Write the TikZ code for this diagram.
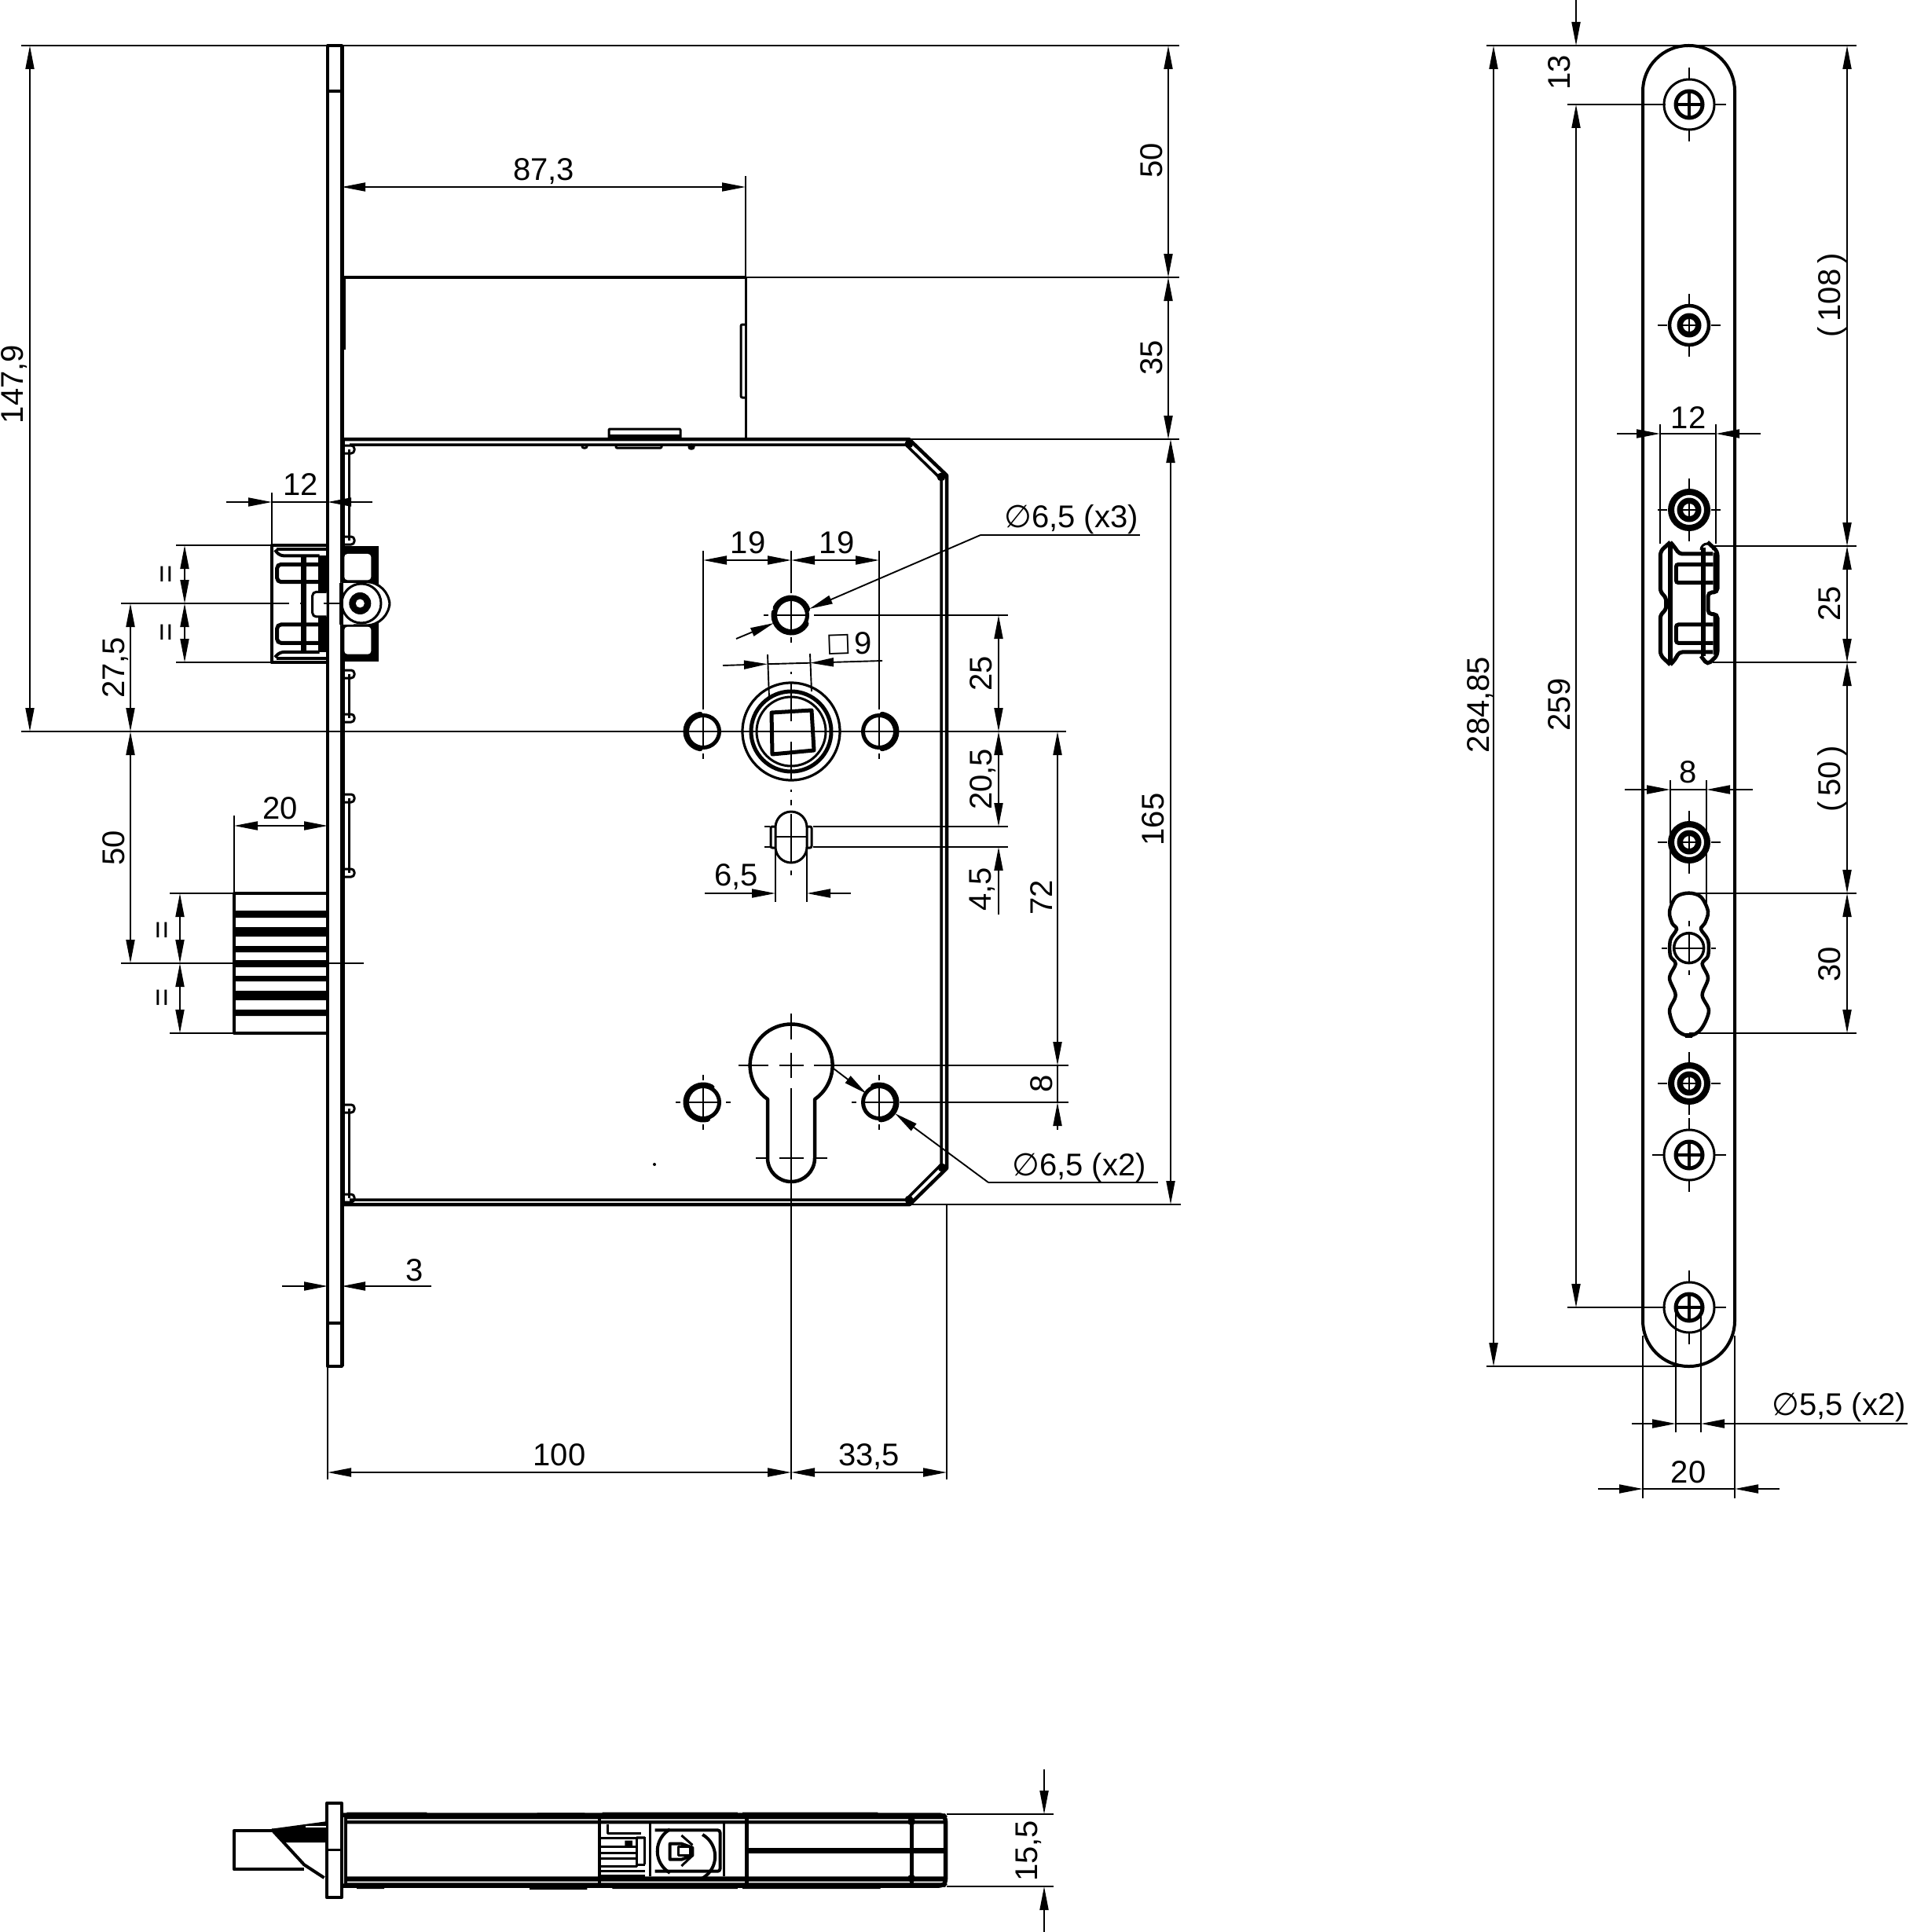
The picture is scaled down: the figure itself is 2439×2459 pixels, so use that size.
\documentclass[tikz,border=0pt]{standalone}
\usepackage{fontspec}
\setmainfont{Liberation Sans}
\newfontfamily\djv{DejaVu Sans}
\usetikzlibrary{arrows.meta}
\tikzset{
  dimln/.style={line width=1.9pt,line cap=butt},
  extln/.style={line width=1.9pt,line cap=butt},
  ctr/.style={line width=1.9pt},
  heavy/.style={line width=4pt,line join=round},
  mid/.style={line width=3pt,line join=round},
  lbl/.style={font=\fontsize{40}{42}\selectfont,inner sep=0pt,text height=28.6pt,text depth=0pt},
  rlbl/.style={lbl,rotate=90},
  tip/.tip={Triangle[length=30pt,width=11pt]},
  both/.style={dimln,{tip}-{tip}},
  tipend/.style={dimln,-{tip}}
}
\newcommand{\dV}[3]{\draw[both] (#1,#2)--(#1,#3);}
\newcommand{\dH}[3]{\draw[both] (#2,#1)--(#3,#1);}
\newcommand{\eH}[3]{\draw[extln] (#2,#1)--(#3,#1);}
\newcommand{\eV}[3]{\draw[extln] (#1,#2)--(#1,#3);}
\newcommand{\phisym}{\makebox[35pt][l]{\djv ∅}}
% hole with thick arc
\newcommand{\hole}[4]{%
  \draw[line width=5pt] (#1,#2) circle (20.5pt);
  \draw[line width=7pt,line cap=round] ([shift={(#3:22pt)}]#1,#2) arc[start angle=#3,end angle=#4,radius=22pt];
  \draw[ctr] (#1-19,#2)--(#1+19,#2) (#1,#2-19)--(#1,#2+19);
  \draw[ctr] (#1-35,#2)--(#1-29,#2) (#1+29,#2)--(#1+35,#2) (#1,#2-35)--(#1,#2-28) (#1,#2+28)--(#1,#2+35);
}
\newcommand{\guide}[2]{%
  \draw[mid] (444,#1)--(444,#2);
  \draw[mid,rounded corners=4pt] (438,#1-5)--(451,#1-5)--(451,#1+5)--(438,#1+5);
  \draw[mid,rounded corners=4pt] (438,#2-5)--(451,#2-5)--(451,#2+5)--(438,#2+5);
}
% #3 ring radius, #4 ring width
\newcommand{\smallscrew}[4]{%
  \draw[line width=#4] (#1,#2) circle (#3);
  \fill (#1,#2) circle (15.5pt);
  \fill[white] (#1,#2) circle (8pt);
  \draw[line width=2.5pt] (#1-15,#2)--(#1+15,#2) (#1,#2-15)--(#1,#2+15);
  \draw[ctr] (#1-40,#2)--(#1-28,#2) (#1+28,#2)--(#1+40,#2) (#1,#2-40)--(#1,#2-27) (#1,#2+27)--(#1,#2+40);
}
\newcommand{\bigscrew}[2]{%
  \draw[mid] (#1,#2) circle (32pt);
  \draw[line width=5pt] (#1,#2) circle (17pt);
  \draw[line width=3.5pt] (#1-17,#2)--(#1+17,#2) (#1,#2-17)--(#1,#2+17);
  \draw[ctr] (#1-47,#2)--(#1-33,#2) (#1+33,#2)--(#1+47,#2) (#1,#2-47)--(#1,#2-33) (#1,#2+33)--(#1,#2+47);
}
\begin{document}
\begin{tikzpicture}[x=1pt,y=-1pt]
\useasboundingbox (0,0) rectangle (2439,2459);
\fill[white] (0,0) rectangle (2439,2459);

% ===== long extension / datum lines =====
\eH{58}{27}{1501}
\eH{931}{27}{1357}
\eH{353}{949}{1501}
\eH{559}{1157}{1501}
\eH{1533}{1158}{1503}

% ===== front view: plate =====
\draw[heavy] (417,58) rectangle (435,1739);
\draw[line width=5pt] (435,58)--(435,1739);
\draw[heavy] (417,116)--(435,116) (417,1684)--(435,1684);

% ===== upper box =====
\draw[heavy] (438,445)--(438,353)--(949,353);
\draw[mid] (949,353)--(949,559);
\draw[mid,rounded corners=2pt] (949,413)--(943,413)--(943,506)--(949,506);
\draw[mid,rounded corners=1pt] (775,559)--(775,546)--(866,546)--(866,559);
\draw[line width=5pt] (775,555)--(866,555);
\draw[mid,rounded corners=1pt] (784,566)--(784,570)--(842,570)--(842,566);
\draw[mid,rounded corners=2pt] (741,566)--(741,570)--(747,570)--(747,566);
\fill (880,568) circle (3.5pt);
\draw[mid,rounded corners=2pt] (877,566)--(877,571)--(883,571)--(883,566);

% ===== lock case =====
\draw[line width=4.5pt,line join=round] (437,559)--(1157,559)--(1205,605)--(1205,1487)--(1158,1533)--(437,1533);
\draw[line width=3.5pt,line join=round] (445,566)--(1153,566)--(1198,610)--(1198,1482)--(1153,1527)--(445,1527);
\draw[line width=4pt] (437,559)--(437,1533);
\fill (1157,565) circle (5.5pt) (1198,607) circle (5.5pt) (1199,1486) circle (5.5pt) (1157,1527) circle (5.5pt);
\guide{572}{688}
\guide{858}{914}
\guide{1016}{1111}
\guide{1411}{1525}

% ===== left latch =====
\begin{scope}[shift={(250,500)},x=.3333pt,y=-.3333pt]
  \draw[heavy] (495,582)--(287,582)--(287,1030)--(495,1030);
  \draw[heavy,rounded corners=3pt] (305,598)--(495,598);
  \draw[heavy,rounded corners=3pt] (305,1014)--(495,1014);
  \draw[heavy,rounded corners=5pt] (300,600)--(318,622)--(470,622);
  \draw[heavy,rounded corners=5pt] (300,1010)--(318,990)--(470,990);
  \fill (465,622) rectangle (497,990);
  \draw[line width=5pt,rounded corners=5pt] (465,655)--(308,655)--(308,722)--(465,722);
  \draw[line width=5pt,rounded corners=5pt] (465,885)--(308,885)--(308,955)--(465,955);
  \draw[line width=7pt] (410,622)--(410,990);
  \draw[mid,fill=white,rounded corners=5pt] (497,760)--(443,760)--(443,855)--(497,855);
  \fill[white] (452,780) rectangle (495,835);
  % right block
  \fill (553,585) rectangle (697,1027);
  \fill[white,rounded corners=4pt] (565,615) rectangle (667,715);
  \fill[white,rounded corners=4pt] (565,893) rectangle (667,998);
  \draw[mid,fill=white,rounded corners=30pt] (553,722)--(738,722)--(738,888)--(553,888);
  \fill[white] (553,725) rectangle (600,885);
  \draw[mid] (630,804) circle (25pt);
  \fill (625,804) circle (14pt);
  \fill[white] (625,804) circle (5.5pt);
  \draw[line width=5pt] (553,725)--(553,885);
  % centre line
  \draw[ctr] (0,804)--(355,804) (395,804)--(420,804) (485,804)--(560,804);
\end{scope}
\eH{694}{224}{346}
\eH{843}{224}{346}
\eH{768}{154}{250}
\eV{346}{627}{694}
\draw[tipend] (288,639)--(346,639);
\draw[tipend] (474,639)--(417,639);
\draw[dimln] (346,639)--(417,639);
\node[lbl] (t12a) at (383,616) {12};
\dV{235}{694}{768}
\dV{235}{768}{843}
\node[rlbl] (teq1) at (210,731) {=};
\node[rlbl] (teq2) at (210,805) {=};
\dV{166}{768}{931}
\dV{166}{931}{1226}
\node[rlbl] (t275) at (144,850) {27,5};
\node[rlbl] (t50a) at (144,1079) {50};

% ===== deadbolt =====
\draw[heavy] (417,1137)--(298,1137)--(298,1315)--(417,1315);
\fill (298,1159) rectangle (417,1168) (298,1180) rectangle (417,1192) (298,1204) rectangle (417,1212) (298,1222) rectangle (417,1231) (298,1242) rectangle (417,1249) (298,1261) rectangle (417,1273) (298,1285) rectangle (417,1293);
\eH{1137}{216}{298}
\eH{1315}{216}{298}
\eH{1226}{154}{298}
\eH{1226}{417}{463}
\eV{298}{1038}{1137}
\dH{1051}{298}{417}
\node[lbl] (t20a) at (357,1028) {20};
\dV{229}{1137}{1226}
\dV{229}{1226}{1315}
\node[rlbl] (teq3) at (205,1184) {=};
\node[rlbl] (teq4) at (205,1270) {=};

% ===== top dims =====
\dV{38}{58}{931}
\node[rlbl] (t1479) at (15.5,489) {147,9};
\dH{238}{435}{949}
\eV{949}{224}{353}
\node[lbl] (t873) at (692,215) {87,3};
\dV{1487}{58}{353}
\dV{1487}{353}{559}
\dV{1490}{559}{1533}
\node[rlbl] (t50b) at (1465,204) {50};
\node[rlbl] (t35) at (1465,455) {35};
\node[rlbl] (t165) at (1467,1043) {165};

% ===== spindle =====
\draw[line width=3.2pt] (1007,931) circle (62pt);
\draw[line width=5pt] (1007,931) circle (51pt);
\draw[line width=3pt] (1007,931) circle (44pt);
\draw[line width=5pt,line join=round] (982,907)--(1033,904)--(1036,955)--(983,960)--cycle;
\draw[ctr] (1007,870)--(1007,918) (1007,944)--(1007,992);
\draw[ctr] (994,931)--(1020,931);

\hole{895}{931}{100}{260}
\hole{1119}{931}{-80}{80}
\hole{1007}{783}{170}{330}
\draw[line width=7pt,line cap=round] ([shift={(20:22pt)}]1007,783) arc[start angle=20,end angle=155,radius=22pt];
\hole{895}{1403}{60}{285}
\hole{1119}{1403}{-85}{110}

% 19 19
\eV{895}{701}{902}
\eV{1119}{701}{902}
\eV{1007}{701}{754}
\dH{713}{895}{1007}
\dH{713}{1007}{1119}
\node[lbl] (t19a) at (952,690) {19};
\node[lbl] (t19b) at (1065,690) {19};

% square 9
\draw[tipend] (920,847)--(977,845.2);
\draw[tipend] (1123,841)--(1031,843.7);
\draw[dimln] (977,845.2)--(1031,843.7);
\draw[extln] (977,833)--(979,888) (1031,832)--(1033,880);
\node[inner sep=0pt,rotate=2,font=\djv\fontsize{33}{35}\selectfont] (tsq) at (1068,820) {□};
\node[lbl] (t9) at (1099,818) {9};

% centre dashes
\draw[ctr] (1007,813)--(1007,818) (1007,855)--(1007,858) (1007,1005)--(1007,1008) (1007,1018)--(1007,1025) (1007,1036)--(1007,1097) (1007,1108)--(1007,1114);
\draw[ctr] (973,1052)--(980,1052) (973,1078)--(980,1078);

% top hole diam leader
\draw[tipend] (1248,681)--(1030,775);
\draw[dimln] (1248,681)--(1451,681);
\draw[tipend] (937,813)--(985,793);
\node[lbl,anchor=west] (td1) at (1278,657) {\phisym 6,5 (x3)};

% 25 etc
\eH{783}{1037}{1283}
\eH{1052}{1035}{1283}
\eH{1078}{1035}{1283}
\dV{1271}{783}{931}
\dV{1271}{931}{1052}
\draw[tipend] (1271,1164)--(1271,1078);
\node[rlbl] (t25a) at (1248,857) {25};
\node[rlbl] (t205) at (1248,992) {20,5};
\node[rlbl] (t45) at (1247,1132) {4,5};

% slot
\draw[mid] (987,1053) arc[start angle=180,end angle=0,radius=20pt] -- (1027,1078) arc[start angle=0,end angle=-180,radius=20pt] -- cycle;
\draw[mid,rounded corners=2pt] (987,1052)--(981,1052)--(981,1079)--(987,1079);
\draw[mid,rounded corners=2pt] (1027,1052)--(1033,1052)--(1033,1079)--(1027,1079);
\draw[ctr] (987,1065)--(1027,1065);
\eV{987}{1078}{1148}
\eV{1027}{1078}{1148}
\draw[tipend] (897,1137)--(987,1137);
\draw[tipend] (1083,1137)--(1027,1137);
\node[lbl] (t65a) at (937,1113) {6,5};

% keyhole
\draw[line width=4.5pt,line join=round] (977,1399) arc[start angle=235,end angle=-55,radius=52.5pt] -- (1037,1474) arc[start angle=0,end angle=-180,radius=30pt] -- cycle;
\draw[ctr] (1007,1290)--(1007,1323) (1007,1340)--(1007,1372) (1007,1385)--(1007,1883);
\draw[ctr] (940,1356)--(978,1356) (992,1356)--(1023,1356) (1036,1356)--(1360,1356);
\draw[ctr] (962,1474)--(977,1474) (992,1474)--(1023,1474) (1037,1474)--(1053,1474);
\eH{1403}{1145}{1360}
\draw[both] (1346,931)--(1346,1356);
\draw[dimln] (1346,1356)--(1346,1403);
\draw[tipend] (1346,1438)--(1346,1403);
\node[rlbl] (t72) at (1325,1142) {72};
\node[rlbl] (t8a) at (1325,1379) {8};
\draw[tipend] (1061,1360)--(1103,1392);
\draw[tipend] (1258,1505)--(1139,1417);
\draw[dimln] (1258,1505)--(1474,1505);
\node[lbl,anchor=west] (td2) at (1288,1482) {\phisym 6,5 (x2)};
\fill (833,1482) circle (2pt);

% 3, 100, 33,5
\draw[tipend] (359,1637)--(417,1637);
\draw[tipend] (549,1637)--(435,1637);
\node[lbl] (t3) at (528,1616) {3};
\eV{417}{1739}{1883}
\eV{1205}{1533}{1883}
\dH{1874}{417}{1007}
\dH{1874}{1007}{1205}
\node[lbl] (t100) at (712,1851) {100};
\node[lbl] (t335) at (1106,1851) {33,5};

% ===== side plate view =====
\draw[heavy,rounded corners=58pt] (2091,58) rectangle (2208,1739);
\eH{58}{1892}{2149}
\eH{1739}{1892}{2140}
\eH{133}{1995}{2120}
\eH{1664}{1995}{2120}
\dV{1901}{58}{1739}
\node[rlbl] (t28485) at (1881,897) {284,85};
\dV{2006}{133}{1664}
\node[rlbl] (t259) at (1984,897) {259};
\draw[tipend] (2006,0)--(2006,58);
\node[rlbl] (t13) at (1984,92) {13};

\bigscrew{2150}{133}
\bigscrew{2150}{1470}
\bigscrew{2150}{1664}
\smallscrew{2150}{414}{25pt}{4.5pt}
\smallscrew{2150}{649}{23pt}{8pt}
\smallscrew{2150}{1072}{23pt}{8pt}
\smallscrew{2150}{1379}{23pt}{8pt}

% side latch
\begin{scope}[shift={(2050,600)},x=.3333pt,y=-.3333pt]
  \draw[line width=5pt,line join=round,rounded corners=5pt] (228,270)--(190,305)--(190,462)--(212,480)--(212,530)--(190,545)--(190,702)--(228,738);
  \draw[line width=5pt,rounded corners=5pt] (370,270)--(408,305)--(408,462)--(372,462)--(372,545)--(408,545)--(408,702)--(370,738)--(345,705);
  \draw[line width=5pt,rounded corners=4pt] (228,270)--(245,290)--(262,315)--(390,315);
  \draw[line width=5pt,rounded corners=4pt] (228,738)--(245,720)--(262,690)--(390,690);
  \draw[line width=6pt] (228,270)--(228,738);
  \draw[line width=6pt] (353,290)--(353,705);
  \draw[line width=5pt,rounded corners=3pt] (392,355)--(250,355)--(250,425)--(392,425);
  \draw[line width=5pt,rounded corners=3pt] (392,585)--(250,585)--(250,655)--(392,655);
  \fill (392,310) rectangle (410,460) (392,548) rectangle (410,700);
  \draw[mid] (345,300) arc[start angle=180,end angle=0,radius=8pt];
\end{scope}
\eH{695}{2180}{2363}
\eH{843}{2180}{2363}
\eV{2113}{540}{692}
\eV{2184}{540}{692}
\draw[tipend] (2058,552)--(2113,552);
\draw[tipend] (2241,552)--(2184,552);
\draw[dimln] (2113,552)--(2184,552);
\node[lbl] (t12b) at (2149,531) {12};

% side cylinder cut-out
\begin{scope}[shift={(2050,1000)},x=.3333pt,y=-.3333pt]
  \draw[line width=4.5pt] plot[smooth cycle,tension=.55] coordinates {(299,410)(345,425)(372,480)(360,525)(345,548)(372,590)(372,650)(350,680)(372,735)(350,800)(375,860)(345,930)(299,955)(250,930)(225,860)(248,800)(225,735)(248,680)(228,650)(228,590)(252,548)(235,525)(225,480)(250,425)};
  \fill (285,945) rectangle (313,962);
  \draw[line width=3.5pt] (299,620) circle (19pt);
  \draw[ctr] (240,620)--(358,620) (299,562)--(299,678);
  \draw[ctr] (195,620)--(215,620) (383,620)--(403,620) (299,517)--(299,537) (299,705)--(299,723);
\end{scope}
\eV{2126}{993}{1150}
\eV{2172}{993}{1150}
\draw[tipend] (2068,1005)--(2126,1005);
\draw[tipend] (2231,1005)--(2172,1005);
\draw[dimln] (2126,1005)--(2172,1005);
\node[lbl] (t8b) at (2149,982) {8};
\eH{1137}{2150}{2363}
\eH{1315}{2150}{2363}
\eH{58}{2149}{2363}

% side right dims
\dV{2351}{58}{695}
\dV{2351}{695}{843}
\dV{2351}{843}{1137}
\dV{2351}{1137}{1315}
\node[rlbl] (t108) at (2328,376) {(\,108\,)};
\node[rlbl] (t25b) at (2328,768) {25};
\node[rlbl] (t50c) at (2328,991) {(\,50\,)};
\node[rlbl] (t30) at (2328,1227) {30};

% side bottom dims
\eV{2133}{1664}{1823}
\eV{2165}{1664}{1823}
\draw[tipend] (2077,1812)--(2133,1812);
\draw[tipend] (2428,1812)--(2165,1812);
\draw[dimln] (2133,1812)--(2165,1812);
\node[lbl,anchor=west] (td3) at (2255,1787) {\phisym 5,5 (x2)};
\eV{2091}{1700}{1907}
\eV{2208}{1700}{1907}
\draw[tipend] (2034,1895)--(2091,1895);
\draw[tipend] (2265,1895)--(2208,1895);
\draw[dimln] (2091,1895)--(2208,1895);
\node[lbl] (t20b) at (2149,1873) {20};

% ===== bottom view =====
\begin{scope}[shift={(250,2250)},x=.6378pt,y=-.3333pt]
  \draw[heavy] (260,135) rectangle (290,495);
  \draw[mid] (260,314)--(290,314);
  % body
  \draw[line width=5.5pt,rounded corners=5pt] (290,180)--(1490,180)--(1495,190)--(1495,440)--(1490,450)--(290,450);
  \fill (295,176) rectangle (1495,196) (295,201) rectangle (1495,214);
  \fill (295,415) rectangle (1495,434) (295,439) rectangle (1495,455);
  \draw[heavy] (298,180)--(298,450);
  \fill (300,170) rectangle (460,182) (680,172) rectangle (775,182) (810,170) rectangle (1080,182) (1090,170) rectangle (1360,182);
  \fill (320,448) rectangle (375,462) (665,448) rectangle (780,465) (830,448) rectangle (1080,462) (1090,448) rectangle (1365,462);
  % bolt
  \draw[heavy] (150,240)--(75,240)--(75,388)--(215,388);
  \fill (150,233)--(258,205)--(258,285)--(175,285)--cycle;
  \fill[white] (218,222) rectangle (258,229);
  \draw[heavy,line join=round] (150,235)--(215,370)--(255,420);
  % verticals
  \draw[heavy] (805,190)--(805,440);
  \draw[line width=5pt] (1098,190)--(1098,440);
  \draw[mid] (905,210)--(905,415) (1053,210)--(1053,415);
  \draw[line width=5pt] (1427,190)--(1427,440);
  \draw[line width=7pt] (1100,315)--(1495,315);
  \fill (1427,205) circle (5pt) (1427,422) circle (5pt);
  % mechanism
  \draw[heavy,rounded corners=3pt] (915,238)--(1045,238)--(1045,395)--(915,395);
  \draw[heavy] (945,235) arc[start angle=120,end angle=240,radius=32pt];
  \draw[heavy] (1010,255) arc[start angle=60,end angle=-60,radius=32pt];
  \draw[heavy] (945,290)--(968,290)--(990,305)--(990,335)--(968,350)--(945,350)--cycle;
  \draw[mid] (962,302) rectangle (985,335);
  \draw[mid] (968,258)--(990,295) (968,375)--(990,335);
  \draw[mid] (820,215)--(820,250)--(888,250);
  \draw[mid] (805,268)--(878,268)--(878,375)--(805,375);
  \draw[mid] (805,300)--(878,300) (805,325)--(878,325) (805,345)--(878,345) (805,395)--(895,395) (805,412)--(895,412);
  \fill (855,278) rectangle (870,298) (878,262) rectangle (895,272);
  \draw[mid] (895,265)--(895,370);
  \draw[mid] (878,370)--(895,370);
\end{scope}
\eH{2309}{1205}{1341}
\eH{2401}{1205}{1341}
\draw[tipend] (1329,2252)--(1329,2309);
\draw[tipend] (1329,2459)--(1329,2401);
\node[rlbl] (t155) at (1306,2356) {15,5};
\end{tikzpicture}
\end{document}
